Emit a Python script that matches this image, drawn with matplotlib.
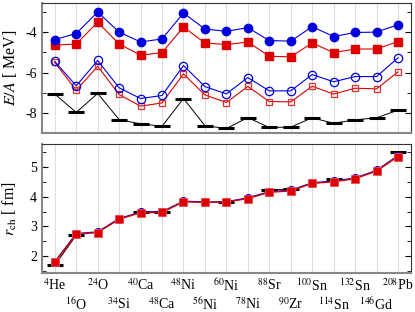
import numpy as np
import matplotlib
matplotlib.use('Agg')
import matplotlib.pyplot as plt
from matplotlib.ticker import MultipleLocator

plt.rcParams['font.family'] = ['Liberation Serif', 'DejaVu Serif']
plt.rcParams['mathtext.fontset'] = 'stix'
plt.rcParams['axes.unicode_minus'] = False

nuclei = [r'$^{4}$He', r'$^{16}$O', r'$^{24}$O', r'$^{34}$Si', r'$^{40}$Ca', r'$^{48}$Ca',
          r'$^{48}$Ni', r'$^{56}$Ni', r'$^{60}$Ni', r'$^{78}$Ni', r'$^{88}$Sr', r'$^{90}$Zr',
          r'$^{100}$Sn', r'$^{114}$Sn', r'$^{132}$Sn', r'$^{146}$Gd', r'$^{208}$Pb']

# binding energy per nucleon [MeV]
ea_blue_full = [-4.36, -4.06, -2.99, -3.99, -4.48, -4.33, -3.04, -3.84, -3.95, -3.77,
                -4.41, -4.44, -3.72, -4.21, -4.01, -3.99, -3.62]
ea_red_full = [-4.64, -4.58, -3.50, -4.58, -5.14, -5.01, -3.74, -4.53, -4.61, -4.48,
               -5.19, -5.22, -4.53, -5.01, -4.83, -4.83, -4.46]
ea_blue_open = [-5.45, -6.66, -5.40, -6.76, -7.29, -7.14, -5.65, -6.70, -7.06, -6.25,
                -6.91, -6.91, -6.10, -6.46, -6.20, -6.20, -5.27]
ea_red_open = [-5.50, -6.88, -5.69, -7.09, -7.67, -7.51, -6.07, -7.11, -7.49, -6.69,
               -7.44, -7.46, -6.68, -7.07, -6.78, -6.81, -5.97]
ea_exp = [-7.07, -7.98, -7.04, -8.34, -8.55, -8.67, -7.29, -8.64, -8.78, -8.24,
          -8.73, -8.71, -8.25, -8.52, -8.35, -8.25, -7.87]

# charge radii [fm]
rch_blue = [1.80, 2.75, 2.81, 3.26, 3.48, 3.49, 3.85, 3.82, 3.83, 3.96,
            4.17, 4.22, 4.47, 4.53, 4.63, 4.89, 5.39]
rch_red = [1.78, 2.73, 2.79, 3.24, 3.46, 3.47, 3.83, 3.81, 3.82, 3.94,
           4.15, 4.20, 4.45, 4.51, 4.61, 4.87, 5.36]
nan = np.nan
rch_exp = [1.68, 2.70, nan, nan, 3.48, 3.48, nan, nan, 3.81, nan,
           4.22, 4.27, nan, 4.61, nan, nan, 5.50]

x = np.arange(len(nuclei))
blue = '#0000dd'
red = '#dd0000'

fig = plt.figure(figsize=(4.15, 3.12), dpi=100)
ax1 = fig.add_axes([0.101, 0.574, 0.889, 0.416])
ax2 = fig.add_axes([0.101, 0.125, 0.889, 0.413])

for ax in (ax1, ax2):
    ax.set_xlim(-0.6, 16.6)
    ax.set_xticks(x)
    ax.grid(axis='x', color='#dddddd', lw=0.8)
    ax.set_axisbelow(True)
    ax.tick_params(axis='y', which='both', direction='in', right=True, labelsize=10)
    ax.tick_params(axis='y', which='major', length=4)
    ax.tick_params(axis='y', which='minor', length=3)
    ax.tick_params(axis='x', length=0)
    for s in ('left', 'bottom'):
        ax.spines[s].set_color('#888888')
        ax.spines[s].set_linewidth(1.5)
    for s in ('top', 'right'):
        ax.spines[s].set_color('#333333')
        ax.spines[s].set_linewidth(0.8)

# top panel
ax1.plot(x, ea_exp, color='black', lw=0.7)
ax1.plot(x, ea_exp, ls='none', marker='_', ms=12, mew=2.2, color='black')
ax1.plot(x, ea_red_open, color=red, lw=0.8, marker='s', ms=5, mfc='none', mec='#e03030', mew=0.9)
ax1.plot(x, ea_blue_open, color=blue, lw=0.8, marker='o', ms=6, mfc='none', mec=blue, mew=0.9)
ax1.plot(x, ea_red_full, color=red, lw=0.8, marker='s', ms=5.5, mfc=red, mec=red)
ax1.plot(x, ea_blue_full, color=blue, lw=0.8, marker='o', ms=6, mfc=blue, mec=blue)
ax1.set_ylim(-9.0, -2.55)
ax1.yaxis.set_major_locator(MultipleLocator(2))
ax1.yaxis.set_minor_locator(MultipleLocator(1))
ax1.set_xticklabels([])
ax1.set_ylabel(r'$E/A$ [ MeV]', fontsize=11.5)
ax1.yaxis.set_label_coords(-0.063, 0.5)

# bottom panel
ax2.plot(x, rch_exp, color='black', lw=0.7)
ax2.plot(x, rch_exp, ls='none', marker='_', ms=12, mew=2.2, color='black')
ax2.plot(x, rch_blue, color=blue, lw=1.0, marker='o', ms=5.5, mfc=blue, mec=blue)
ax2.plot(x, rch_red, color=red, lw=1.0, marker='s', ms=5.5, mfc=red, mec='#ee5050', mew=0.6)
ax2.set_ylim(1.42, 5.78)
ax2.yaxis.set_major_locator(MultipleLocator(1))
ax2.yaxis.set_minor_locator(MultipleLocator(0.5))
ax2.set_ylabel(r'$r_{\rm ch}$ [ fm]', fontsize=11.5)
ax2.yaxis.set_label_coords(-0.063, 0.5)
ax2.set_xticklabels(nuclei, fontsize=10)
for i, t in enumerate(ax2.xaxis.get_major_ticks()):
    t.set_pad(3 if i % 2 == 0 else 17)

fig.savefig('out.png', dpi=100)
